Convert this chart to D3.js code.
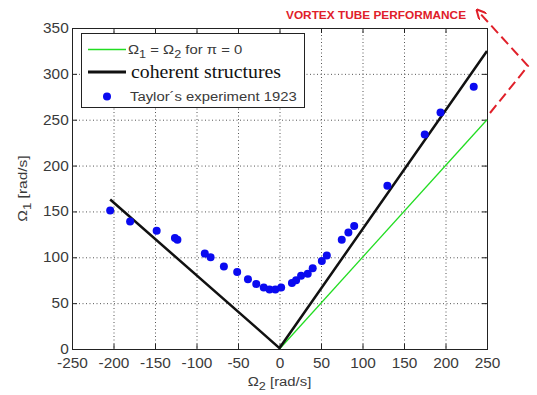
<!DOCTYPE html>
<html>
<head>
<meta charset="utf-8">
<script src="https://cdn.jsdelivr.net/npm/d3@7"></script>
<style>
  html, body { margin: 0; padding: 0; background: #fff; }
  svg { display: block; }
  .tick text { font-family: "Liberation Sans", Arial, sans-serif; font-size: 14px; fill: #3a3a3a; }
</style>
</head>
<body>
<script>
// Taylor's experiment 1923
const omega2 = [-204, -180, -148, -126, -123, -90, -83, -67, -51, -38, -28, -19, -12, -5, 2, 15, 20, 26, 34, 40, 51, 57, 75, 83, 90, 130, 175, 194, 234];
const omega1 = [151, 139, 129, 121, 119, 104, 100, 90, 84, 76, 71, 67, 65, 65, 67, 72, 75, 80, 82, 88, 96, 102, 119, 127, 134, 178, 234, 258, 286];

// reference lines
const greenLine = [[0, 0], [250, 250]];
const blackLine = [[-204, 163], [0, 1], [250, 325]];

const xTicks = [-250, -200, -150, -100, -50, 0, 50, 100, 150, 200, 250];
const yTicks = [0, 50, 100, 150, 200, 250, 300, 350];

const W = 537, H = 395;
const margin = { top: 28, right: 50, bottom: 46, left: 72 };
const width = W - margin.left - margin.right;
const height = H - margin.top - margin.bottom;
// the source picture is a bit wider than tall, so text gets stretched sideways
const sx = 1.1;

const svg = d3.select('body').append('svg')
  .attr('width', W)
  .attr('height', H);

const g = svg.append('g')
  .attr('transform', `translate(${margin.left},${margin.top})`);

const x = d3.scaleLinear().domain([-250, 250]).range([0, width]);
const y = d3.scaleLinear().domain([0, 350]).range([height, 0]);

// dotted grid (MATLAB style)
g.append('g').selectAll('line')
  .data(xTicks.slice(1, -1))
  .join('line')
    .attr('x1', d => x(d) + 0.5).attr('x2', d => x(d) + 0.5)
    .attr('y1', 0).attr('y2', height)
    .attr('stroke', '#555').attr('stroke-dasharray', '1,2.5');

g.append('g').selectAll('line')
  .data(yTicks.slice(1, -1))
  .join('line')
    .attr('y1', d => y(d) + 0.5).attr('y2', d => y(d) + 0.5)
    .attr('x1', 0).attr('x2', width)
    .attr('stroke', '#555').attr('stroke-dasharray', '1,2.5');

// axes, ticks inward on all four sides
const fmt = d => String(d);
g.append('g')
  .attr('transform', `translate(0,${height})`)
  .call(d3.axisBottom(x).tickValues(xTicks).tickSize(-5).tickPadding(9).tickFormat(fmt));
g.append('g')
  .call(d3.axisLeft(y).tickValues(yTicks).tickSize(-5).tickPadding(3).tickFormat(fmt));
g.append('g')
  .call(d3.axisTop(x).tickValues(xTicks).tickSize(-5).tickFormat(''));
g.append('g')
  .attr('transform', `translate(${width},0)`)
  .call(d3.axisRight(y).tickValues(yTicks).tickSize(-5).tickFormat(''));

g.selectAll('.domain').remove();
g.selectAll('.tick line').attr('stroke', '#222');
g.selectAll('.tick text').attr('transform', `scale(${sx},1)`);

g.append('rect')
  .attr('x', 0.5).attr('y', 0.5)
  .attr('width', width).attr('height', height)
  .attr('fill', 'none').attr('stroke', '#222');

// lines
const line = d3.line().x(d => x(d[0])).y(d => y(d[1]));

g.append('path')
  .datum(greenLine)
  .attr('d', line)
  .attr('fill', 'none')
  .attr('stroke', '#22dd22')
  .attr('stroke-width', 1.3);

g.append('path')
  .datum(blackLine)
  .attr('d', line)
  .attr('fill', 'none')
  .attr('stroke', '#111')
  .attr('stroke-width', 2.5);

// experiment points
g.append('g').selectAll('circle')
  .data(omega2.map((d, i) => [d, omega1[i]]))
  .join('circle')
    .attr('cx', d => x(d[0]))
    .attr('cy', d => y(d[1]))
    .attr('r', 4)
    .attr('fill', '#0a0af0');

// text helper: stretched text anchored at (px, py)
function label(parent, px, py, s = sx) {
  return parent.append('g')
    .attr('transform', `translate(${px},${py}) scale(${s},1)`)
    .append('text');
}

// legend
const sans = '"Liberation Sans", Arial, sans-serif';
const legend = svg.append('g');
legend.append('rect')
  .attr('x', 81.5).attr('y', 33.5)
  .attr('width', 223).attr('height', 74)
  .attr('fill', '#fff').attr('stroke', '#222');

legend.append('line')
  .attr('x1', 88).attr('x2', 126).attr('y1', 49.5).attr('y2', 49.5)
  .attr('stroke', '#22dd22').attr('stroke-width', 1.3);
const t1 = label(legend, 128, 54)
  .attr('font-family', sans).attr('font-size', 13.5).attr('fill', '#3a3a3a');
t1.append('tspan').text('Ω');
t1.append('tspan').attr('dy', 4).attr('font-size', 11.5).text('1');
t1.append('tspan').attr('dy', -4).text(' = Ω');
t1.append('tspan').attr('dy', 4).attr('font-size', 11.5).text('2');
t1.append('tspan').attr('dy', -4).text(' for π = 0');

legend.append('line')
  .attr('x1', 88).attr('x2', 126).attr('y1', 72).attr('y2', 72)
  .attr('stroke', '#111').attr('stroke-width', 2.8);
label(legend, 131, 78)
  .attr('font-family', '"Liberation Serif", "Times New Roman", serif')
  .attr('font-size', 18).attr('fill', '#111')
  .text('coherent structures');

legend.append('circle')
  .attr('cx', 107).attr('cy', 96.5).attr('r', 4)
  .attr('fill', '#0a0af0');
label(legend, 130, 101)
  .attr('font-family', sans).attr('font-size', 13.5).attr('fill', '#3a3a3a')
  .text('Taylor´s experiment 1923');

// axis labels
const xl = label(svg, margin.left + x(0), 386)
  .attr('text-anchor', 'middle')
  .attr('font-family', sans).attr('font-size', 13.5).attr('fill', '#3a3a3a');
xl.append('tspan').text('Ω');
xl.append('tspan').attr('dy', 4).attr('font-size', 11.5).text('2');
xl.append('tspan').attr('dy', -4).text(' [rad/s]');

const yl = svg.append('text')
  .attr('transform', `translate(27,${margin.top + y(175)}) rotate(-90) scale(1.15,1)`)
  .attr('text-anchor', 'middle')
  .attr('font-family', sans).attr('font-size', 13.5).attr('fill', '#3a3a3a');
yl.append('tspan').text('Ω');
yl.append('tspan').attr('dy', 4).attr('font-size', 11.5).text('1');
yl.append('tspan').attr('dy', -4).text(' [rad/s]');

// annotation
const red = '#e0202a';
label(svg, 286, 19, 1.03)
  .attr('font-family', sans).attr('font-size', 11.5).attr('font-weight', 'bold')
  .attr('fill', red)
  .text('VORTEX TUBE PERFORMANCE');

svg.append('defs').append('marker')
  .attr('id', 'arrow')
  .attr('viewBox', '0 0 10 10')
  .attr('refX', 9).attr('refY', 5)
  .attr('markerWidth', 5).attr('markerHeight', 5)
  .attr('orient', 'auto')
  .append('path')
    .attr('d', 'M0,0 L10,5 L0,10')
    .attr('fill', 'none').attr('stroke', red).attr('stroke-width', 2);

svg.append('path')
  .attr('d', 'M490,113 L528,66 L477,10')
  .attr('fill', 'none')
  .attr('stroke', red).attr('stroke-width', 2)
  .attr('stroke-dasharray', '10,5')
  .attr('marker-end', 'url(#arrow)');
</script>
</body>
</html>
